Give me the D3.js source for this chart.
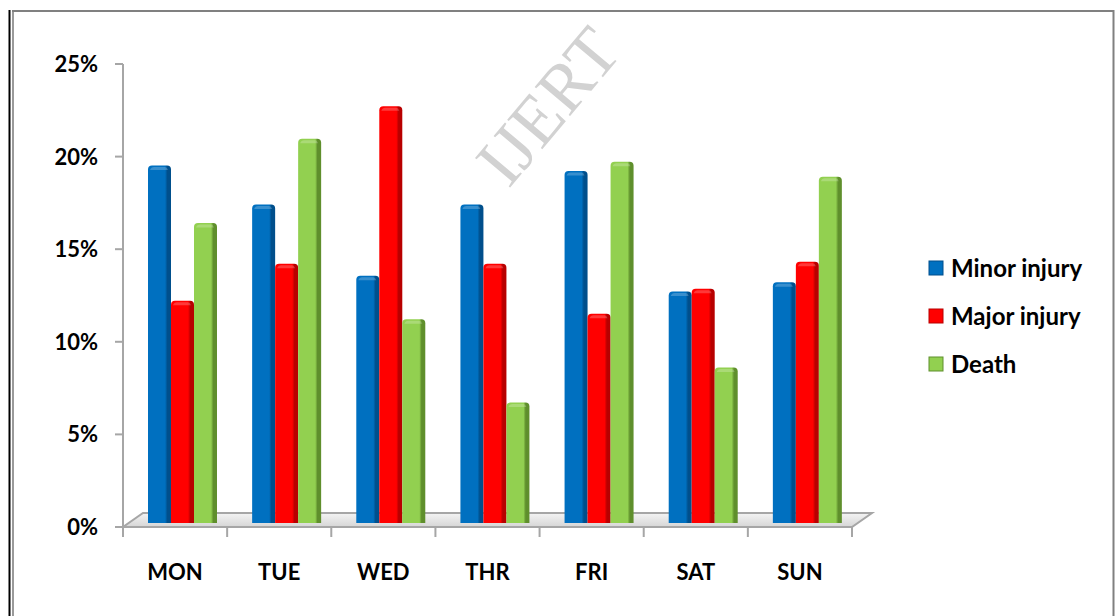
<!DOCTYPE html>
<html>
<head>
<meta charset="utf-8">
<script src="https://cdn.jsdelivr.net/npm/d3@7"></script>
<style>
  body { margin: 0; background: #fff; }
  svg { display: block; font-family: Lato, "Open Sans", sans-serif; }
</style>
</head>
<body>
<div id="chart"></div>
<script>
// Data
const days = ["MON", "TUE", "WED", "THR", "FRI", "SAT", "SUN"];
const seriesNames = ["Minor injury", "Major injury", "Death"];
const minorInjury = [19.3, 17.2, 13.35, 17.2, 19.0, 12.5, 13.0];
const majorInjury = [12.0, 14.0, 22.5, 14.0, 11.3, 12.65, 14.1];
const death = [16.2, 20.75, 11.0, 6.5, 19.5, 8.4, 18.7];
const yTicks = [0, 5, 10, 15, 20, 25];

const width = 1115, height = 616;
const colors = ["#0070C0", "#FF0000", "#92D050"];
const darks = ["#004f8c", "#b80000", "#5f8f2c"];

const svg = d3.select("#chart").append("svg")
    .attr("width", width)
    .attr("height", height);

const defs = svg.append("defs");
colors.forEach((c, i) => {
    const g = defs.append("linearGradient")
        .attr("id", "bar" + i)
        .attr("x1", "0").attr("x2", "1").attr("y1", "0").attr("y2", "0");
    g.append("stop").attr("offset", "0%").attr("stop-color", c);
    g.append("stop").attr("offset", "74%").attr("stop-color", c);
    g.append("stop").attr("offset", "84%").attr("stop-color", darks[i]);
    g.append("stop").attr("offset", "100%").attr("stop-color", darks[i]);
});
const fg = defs.append("linearGradient")
    .attr("id", "floor")
    .attr("x1", "0").attr("x2", "0").attr("y1", "0").attr("y2", "1");
fg.append("stop").attr("offset", "0%").attr("stop-color", "#f4f4f4");
fg.append("stop").attr("offset", "100%").attr("stop-color", "#d6d6d6");

// Page borders
svg.append("line").attr("x1", 9.5).attr("x2", 9.5).attr("y1", 10).attr("y2", height)
    .attr("stroke", "#000").attr("stroke-width", 2);
svg.append("line").attr("x1", 13).attr("x2", 13).attr("y1", 10).attr("y2", height)
    .attr("stroke", "#9a9a9a").attr("stroke-width", 2);
svg.append("line").attr("x1", 12).attr("x2", 1114).attr("y1", 11).attr("y2", 11)
    .attr("stroke", "#808080").attr("stroke-width", 2);
svg.append("line").attr("x1", 1113.5).attr("x2", 1113.5).attr("y1", 10).attr("y2", height)
    .attr("stroke", "#808080").attr("stroke-width", 2);

// Watermark
svg.append("text")
    .attr("transform", "translate(548,106) rotate(-50)")
    .attr("text-anchor", "middle")
    .attr("dominant-baseline", "central")
    .attr("font-family", "Liberation Serif, serif")
    .attr("font-size", 70)
    .attr("fill", "#d2d2d2")
    .text("IJERT");

// Scales
const left = 123, right = 852, depthX = 20, depthY = 14;
const x0 = d3.scaleBand().domain(days).range([left, right]).padding(0);
const groupW = 69;
const x1 = d3.scaleBand().domain(seriesNames).range([0, groupW]).padding(0);
const y = d3.scaleLinear().domain([0, 25]).range([527, 64]);

// Floor
const y0 = y(0);
svg.append("path")
    .attr("d", `M${left},${y0} L${right},${y0} L${right + depthX},${y0 - depthY} L${left + depthX},${y0 - depthY} Z`)
    .attr("fill", "url(#floor)")
    .attr("stroke", "#a6a6a6")
    .attr("stroke-width", 2);

// Y axis
svg.append("line")
    .attr("x1", left).attr("x2", left)
    .attr("y1", y(25)).attr("y2", y0)
    .attr("stroke", "#a6a6a6").attr("stroke-width", 2);
const yAxis = svg.append("g");
yAxis.selectAll("line").data(yTicks).join("line")
    .attr("x1", left - 8).attr("x2", left)
    .attr("y1", d => y(d)).attr("y2", d => y(d))
    .attr("stroke", "#a6a6a6").attr("stroke-width", 2);
yAxis.selectAll("text").data(yTicks).join("text")
    .attr("x", 98)
    .attr("y", d => y(d))
    .attr("dy", "0.36em")
    .attr("text-anchor", "end")
    .attr("font-size", 22)
    .attr("font-weight", "bold")
    .text(d => d + "%");

// X axis ticks and labels
const xTickPos = days.map(d => x0(d)).concat([right]);
svg.append("g").selectAll("line").data(xTickPos).join("line")
    .attr("x1", d => d).attr("x2", d => d)
    .attr("y1", y0).attr("y2", y0 + 10)
    .attr("stroke", "#a6a6a6").attr("stroke-width", 2);
svg.append("g").selectAll("text").data(days).join("text")
    .attr("x", d => x0(d) + x0.bandwidth() / 2)
    .attr("y", 580)
    .attr("text-anchor", "middle")
    .attr("font-size", 22)
    .attr("font-weight", "bold")
    .text(d => d);

// Bars
const seriesData = [minorInjury, majorInjury, death];
const offsetX = 25, baseShift = 4, bw = x1.bandwidth();
const bars = [];
days.forEach((day, i) => {
    seriesData.forEach((vals, s) => {
        bars.push({ day, s, v: vals[i] });
    });
});

function barPath(d) {
    const xl = x0(d.day) + offsetX + x1(seriesNames[d.s]);
    const xr = xl + bw;
    const top = y(d.v) - baseShift;
    const bot = y0 - baseShift;
    const r = 4;
    return `M${xl},${bot} L${xl},${top + r} Q${xl},${top} ${xl + r},${top} ` +
        `L${xr - r},${top} Q${xr},${top} ${xr},${top + r} L${xr},${bot} Z`;
}

const barG = svg.append("g");
barG.selectAll("path.bar").data(bars).join("path")
    .attr("class", "bar")
    .attr("d", barPath)
    .attr("fill", d => `url(#bar${d.s})`);

// Top highlight of each bar
barG.selectAll("path.cap").data(bars).join("path")
    .attr("class", "cap")
    .attr("d", d => {
        const xl = x0(d.day) + offsetX + x1(seriesNames[d.s]) + 2;
        const xr = xl + bw - 6;
        const top = y(d.v) - baseShift + 1.5;
        return `M${xl},${top + 3} Q${xl + 1},${top} ${xl + 4},${top} L${xr - 2},${top} Q${xr},${top} ${xr + 1},${top + 3} Z`;
    })
    .attr("fill", "#fff")
    .attr("opacity", 0.22);

// Legend
const legend = svg.append("g");
const legendY = [268, 316, 364];
seriesNames.forEach((name, i) => {
    legend.append("rect")
        .attr("x", 929).attr("y", legendY[i] - 7)
        .attr("width", 14).attr("height", 14)
        .attr("fill", colors[i])
        .attr("stroke", darks[i]).attr("stroke-width", 1);
    legend.append("text")
        .attr("x", 951).attr("y", legendY[i])
        .attr("dy", "0.36em")
        .attr("font-size", 24)
        .attr("font-weight", "bold")
        .text(name);
});
</script>
</body>
</html>
